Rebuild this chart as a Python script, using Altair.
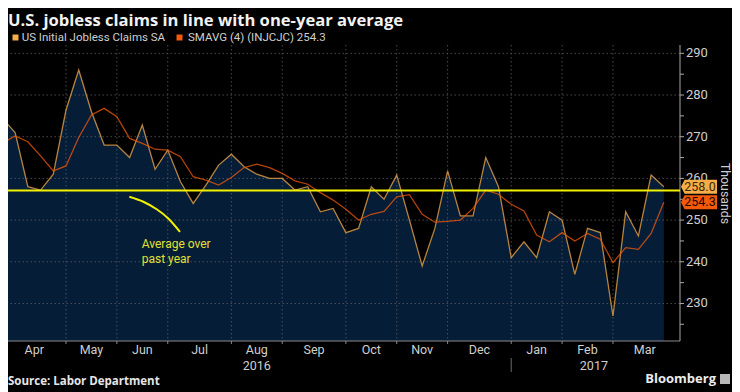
import altair as alt
import pandas as pd

# ---------------- data ----------------
TITLE = "U.S. jobless claims in line with one-year average"
SOURCE = "Source: Labor Department"
BRAND = "Bloomberg"
Y_TITLE = "Thousands"
ANNOTATION = ["Average over", "past year"]
SERIES = ["US Initial Jobless Claims SA", "SMAVG (4) (INJCJC) 254.3"]

week = list(range(53))
claims = [274.4, 271.0, 258.0, 257.2, 261.0, 276.4, 286.0, 276.0, 268.0, 268.0,
          265.0, 272.8, 262.2, 266.8, 259.2, 254.0, 258.4, 263.2, 265.8, 262.8,
          261.0, 260.0, 260.0, 257.2, 258.0, 252.0, 252.8, 247.0, 248.0, 258.0,
          255.0, 260.8, 250.0, 239.0, 248.0, 261.8, 251.0, 251.0, 265.0, 258.0,
          241.0, 244.8, 241.0, 252.0, 250.0, 237.0, 248.0, 247.0, 227.0, 252.0,
          246.2, 260.8, 258.0]
smavg = [268.4, 270.2, 268.8, 265.4, 261.8, 263.0, 269.8, 275.2, 276.8, 274.8,
         269.6, 268.4, 267.0, 266.8, 265.2, 260.4, 259.6, 258.4, 260.2, 262.6,
         263.4, 262.6, 261.2, 259.4, 258.6, 256.6, 254.8, 252.6, 250.0, 251.4,
         252.1, 255.6, 256.1, 251.4, 249.5, 249.7, 250.0, 252.8, 257.2, 256.2,
         253.8, 252.2, 246.4, 244.8, 247.0, 245.0, 246.8, 245.4, 239.8, 243.4,
         243.0, 246.8, 254.3]
average_past_year = 257.1

months = ["Apr", "May", "Jun", "Jul", "Aug", "Sep", "Oct", "Nov", "Dec", "Jan", "Feb", "Mar"]
month_start_week = [0, 5, 9, 13, 18, 22, 27, 31, 35, 40, 44, 48, 53]
years = ["2016", "2017"]
year_start_week = [0, 40, 53]
y_labels = [230, 240, 250, 260, 270, 280, 290]
y_ticks = [225, 230, 235, 240, 245, 250, 255, 260, 265, 270, 275, 280, 285, 290]

ann_week = [9.98, 11.08, 12.13, 13.04, 13.96]
ann_value = [255.6, 254.4, 252.6, 250.4, 247.2]
ann_text_week = 10.95
ann_text_value = [244.2, 240.6]

# ---------------- layout / style ----------------
W, H = 672, 296
X_DOMAIN = [0.44, 53.27]
Y_DOMAIN = [221, 292]
FONT = "Roboto"
BOLD_FONT = "Open Sans"
LIGHT = "#cfcfcf"
C_CLAIMS = "#f5ad4a"
C_SMAVG = "#f25a0a"
NAVY = "#061d38"
YELLOW = "#f2f200"
AXIS_GRAY = "#a8a8a8"
GRID = "#5a5a5a"

xs = alt.Scale(domain=X_DOMAIN, nice=False, zero=False)
ys = alt.Scale(domain=Y_DOMAIN, nice=False, zero=False)
X = lambda f: alt.X(f, scale=xs, axis=None)
Y = lambda f: alt.Y(f, scale=ys, axis=None)

df = pd.DataFrame({"week": week, "claims": claims, "smavg": smavg})
base = alt.Chart(df)

area = base.mark_area(color=NAVY, opacity=1, clip=True).encode(x=X("week:Q"), y=Y("claims:Q"))

grid_h = alt.Chart(pd.DataFrame({"v": y_labels})).mark_rule(
    color=GRID, strokeDash=[1.5, 2.5], strokeWidth=1, opacity=0.8).encode(y=Y("v:Q"))
grid_v = alt.Chart(pd.DataFrame({"v": month_start_week[1:-1]})).mark_rule(
    color=GRID, strokeDash=[1.5, 2.5], strokeWidth=1, opacity=0.8).encode(x=X("v:Q"))

# right value axis (drawn with marks)
y_domain_line = alt.Chart(pd.DataFrame({"v": [0]})).mark_rule(color=AXIS_GRAY, strokeWidth=1).encode(
    x=alt.value(W), y=alt.value(0), y2=alt.value(H))
y_tick_marks = alt.Chart(pd.DataFrame({"v": y_ticks})).mark_rule(color=AXIS_GRAY, strokeWidth=1).encode(
    y=Y("v:Q"), x=alt.value(W), x2=alt.value(W + 4))
y_tick_labels = alt.Chart(pd.DataFrame({"v": y_labels})).mark_text(
    align="left", baseline="middle", font=FONT, fontSize=13, color=LIGHT).encode(
    y=Y("v:Q"), x=alt.value(W + 6), text="v:Q")
y_title = alt.Chart(pd.DataFrame({"t": [Y_TITLE]})).mark_text(
    align="center", baseline="alphabetic", angle=90, font=FONT, fontSize=12.3, color=LIGHT).encode(
    x=alt.value(W + 40.5), y=alt.value(148.5), text="t:N")

# bottom time axis (drawn with marks)
x_domain_line = alt.Chart(pd.DataFrame({"v": [0]})).mark_rule(color="#8a8a8a", strokeWidth=1).encode(
    y=alt.value(H), x=alt.value(0), x2=alt.value(W))
x_tick_marks = alt.Chart(pd.DataFrame({"w": month_start_week[1:-1]})).mark_rule(
    color="#8a8a8a", strokeWidth=1).encode(x=X("w:Q"), y=alt.value(H), y2=alt.value(H + 3))
mid_month = [(month_start_week[i] + month_start_week[i + 1]) / 2 for i in range(len(months))]
month_text = alt.Chart(pd.DataFrame({"m": months, "w": mid_month})).mark_text(
    align="center", baseline="middle", font=FONT, fontSize=12.5, color=LIGHT).encode(
    x=X("w:Q"), y=alt.value(305), text="m:N")
mid_year = [(year_start_week[i] + year_start_week[i + 1]) / 2 for i in range(len(years))]
year_text = alt.Chart(pd.DataFrame({"y": years, "w": mid_year})).mark_text(
    align="center", baseline="middle", font=FONT, fontSize=12.5, color=LIGHT).encode(
    x=X("w:Q"), y=alt.value(321), text="y:N")
year_sep = alt.Chart(pd.DataFrame({"w": year_start_week[1:-1]})).mark_rule(
    color="#6a6a6a", strokeWidth=1).encode(x=X("w:Q"), y=alt.value(313), y2=alt.value(327))

line_claims = base.mark_line(color=C_CLAIMS, strokeWidth=1.3, strokeOpacity=0.74, clip=True).encode(
    x=X("week:Q"), y=Y("claims:Q"))
line_smavg = base.mark_line(color=C_SMAVG, strokeWidth=1.3, strokeOpacity=0.75, clip=True).encode(
    x=X("week:Q"), y=Y("smavg:Q"))

avg_rule = alt.Chart(pd.DataFrame({"v": [average_past_year]})).mark_rule(
    color=YELLOW, strokeWidth=2).encode(y=Y("v:Q"))

ann_line = alt.Chart(pd.DataFrame({"w": ann_week, "v": ann_value})).mark_line(
    color=YELLOW, strokeWidth=2, interpolate="monotone").encode(x=X("w:Q"), y=Y("v:Q"))
ann_text = alt.Chart(pd.DataFrame({"t": ANNOTATION, "v": ann_text_value,
                                   "w": [ann_text_week] * len(ANNOTATION)})).mark_text(
    align="left", baseline="middle", font=FONT, fontSize=12, color="#e0e030").encode(
    x=X("w:Q"), y=Y("v:Q"), text="t:N")

# last value tags on the right
TAG_PATH = "M -1 0 L -0.8 -0.389 L 1 -0.389 L 1 0.389 L -0.8 0.389 Z"
tags = []
for val, fill, txt in [(claims[-1], C_CLAIMS, "#3a2600"), (smavg[-1], C_SMAVG, "#200800")]:
    tdf = pd.DataFrame({"v": [val], "t": [f"{val:.1f}"]})
    tags.append(alt.Chart(tdf).mark_point(shape=TAG_PATH, size=1296, filled=True, opacity=1,
                                          fill=fill, strokeWidth=0).encode(
        x=alt.value(691), y=Y("v:Q")))
    tags.append(alt.Chart(tdf).mark_text(align="center", baseline="middle", font=FONT,
                                         fontSize=12.5, color=txt).encode(
        x=alt.value(692), y=Y("v:Q"), text="t:N"))

# legend (manual)
legend_layers = []
for name, col, sx, tx in [(SERIES[0], C_CLAIMS, 7.5, 13.7), (SERIES[1], C_SMAVG, 171.5, 180)]:
    ldf = pd.DataFrame({"t": [name]})
    legend_layers.append(alt.Chart(ldf).mark_point(shape="square", size=36, filled=True, opacity=1,
                                                   color=col).encode(
        x=alt.value(sx), y=alt.value(-7.5)))
    legend_layers.append(alt.Chart(ldf).mark_text(align="left", baseline="middle", font=FONT,
                                                  fontSize=11.5, color=LIGHT).encode(
        x=alt.value(tx), y=alt.value(-7), text="t:N"))

title = alt.Chart(pd.DataFrame({"t": [TITLE]})).mark_text(
    align="left", baseline="alphabetic", font=BOLD_FONT, fontWeight="bold", fontSize=16.6,
    color="#f2f2f2").encode(x=alt.value(0), y=alt.value(-19.2), text="t:N")
source = alt.Chart(pd.DataFrame({"t": [SOURCE]})).mark_text(
    align="left", baseline="middle", font=BOLD_FONT, fontWeight="bold", fontSize=11.5,
    color="#e6e6e6").encode(x=alt.value(0), y=alt.value(336.7), text="t:N")
brand = alt.Chart(pd.DataFrame({"t": [BRAND]})).mark_text(
    align="right", baseline="middle", font=BOLD_FONT, fontWeight="bold", fontSize=13,
    color="#ececec").encode(x=alt.value(708), y=alt.value(334), text="t:N")
brand_icon = alt.Chart(pd.DataFrame({"t": [BRAND]})).mark_point(
    shape="square", size=100, filled=True, opacity=1, color="#b8b8b8").encode(
    x=alt.value(717), y=alt.value(334))

chart = alt.layer(
    area, grid_h, grid_v, x_domain_line, x_tick_marks, y_domain_line, y_tick_marks, y_tick_labels,
    y_title, line_claims, line_smavg, avg_rule, ann_line, ann_text,
    month_text, year_text, year_sep, *tags, *legend_layers, title, source, brand, brand_icon
).properties(
    width=W, height=H,
    autosize=alt.AutoSizeParams(type="none"),
    padding={"left": 0, "top": 37, "right": 52, "bottom": 51},
).configure(background="#000000").configure_view(strokeWidth=0)

chart.save("out.html", embed_options={"renderer": "svg", "actions": False})
